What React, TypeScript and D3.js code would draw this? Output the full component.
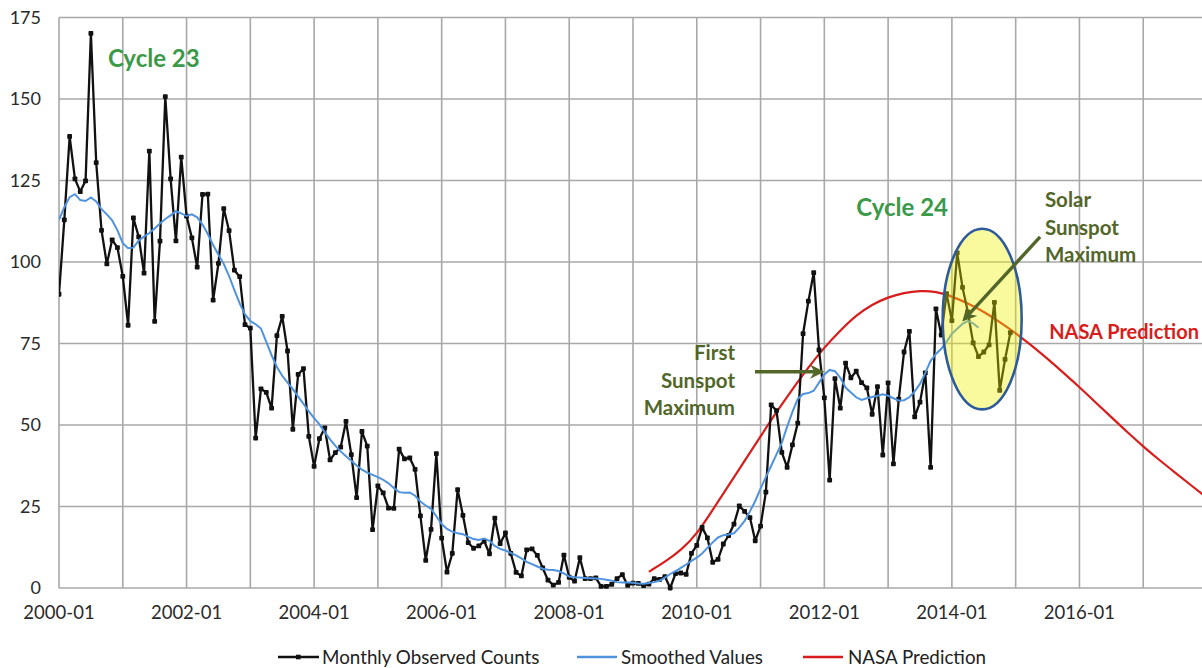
import React from "react";
import * as d3 from "d3";

const W = 1202;
const H = 668;

// Monthly observed sunspot counts, Jan..Dec of each year
const obs2000 = [90.1, 112.9, 138.5, 125.5, 121.6, 124.9, 170.1, 130.5, 109.7, 99.4, 106.8, 104.4];
const obs2001 = [95.6, 80.6, 113.5, 107.7, 96.6, 134.0, 81.8, 106.4, 150.7, 125.5, 106.5, 132.2];
const obs2002 = [114.1, 107.4, 98.4, 120.7, 120.8, 88.3, 99.6, 116.4, 109.6, 97.5, 95.5, 80.8];
const obs2003 = [79.7, 46.0, 61.1, 60.0, 55.2, 77.4, 83.3, 72.7, 48.7, 65.5, 67.3, 46.5];
const obs2004 = [37.3, 45.8, 49.1, 39.3, 41.5, 43.2, 51.1, 40.9, 27.7, 48.0, 43.5, 17.9];
const obs2005 = [31.3, 29.2, 24.5, 24.4, 42.6, 39.6, 39.9, 36.4, 22.1, 8.5, 18.0, 41.2];
const obs2006 = [15.3, 4.9, 10.6, 30.2, 22.3, 13.9, 12.2, 12.9, 14.4, 10.5, 21.4, 13.6];
const obs2007 = [16.9, 10.6, 4.8, 3.7, 11.7, 12.0, 10.0, 6.2, 2.4, 0.9, 1.7, 10.1];
const obs2008 = [3.3, 2.1, 9.3, 2.9, 2.9, 3.1, 0.5, 0.5, 1.1, 2.9, 4.1, 0.8];
const obs2009 = [1.5, 1.4, 0.7, 1.2, 2.9, 2.6, 3.5, 0.0, 4.4, 4.6, 4.2, 10.6];
const obs2010 = [13.1, 18.6, 15.4, 7.9, 8.8, 13.5, 16.1, 19.6, 25.2, 23.5, 21.6, 14.5];
const obs2011 = [19.0, 29.4, 56.2, 54.4, 41.6, 37.0, 43.9, 50.6, 78.0, 88.0, 96.7, 73.0];
const obs2012 = [58.3, 33.1, 64.2, 55.2, 69.0, 64.5, 66.5, 63.0, 61.4, 53.3, 61.8, 40.8];
const obs2013 = [62.9, 38.1, 57.9, 72.4, 78.7, 52.5, 57.0, 66.0, 37.0, 85.6, 77.6, 90.3];
const obs2014 = [82.0, 102.8, 92.2, 84.7, 75.2, 71.0, 72.4, 74.6, 87.6, 60.6, 70.1, 78.3];

// Smoothed values, Jan 2000 .. Jun 2014
const sm2000 = [112.9, 116.8, 119.9, 120.8, 119.0, 118.7, 119.8, 118.6, 116.2, 114.6, 112.8, 109.7];
const sm2001 = [105.8, 104.2, 104.4, 106.6, 107.8, 108.9, 110.3, 111.8, 113.2, 114.3, 115.6, 114.9];
const sm2002 = [114.1, 114.6, 113.7, 111.5, 108.6, 105.2, 102.2, 99.4, 95.7, 91.4, 87.3, 83.9];
const sm2003 = [81.9, 80.9, 79.6, 75.5, 71.4, 67.8, 65.1, 63.0, 61.0, 58.7, 56.5, 54.2];
const sm2004 = [52.1, 50.2, 47.8, 45.6, 43.6, 41.9, 40.4, 39.0, 37.6, 36.3, 35.4, 34.7];
const sm2005 = [34.0, 33.2, 32.1, 30.7, 29.4, 29.2, 29.3, 28.3, 26.5, 25.3, 24.3, 22.0];
const sm2006 = [19.6, 18.1, 17.3, 16.8, 16.5, 15.7, 15.0, 14.7, 15.2, 14.5, 12.9, 12.0];
const sm2007 = [11.5, 10.8, 10.0, 9.1, 8.0, 7.3, 6.6, 5.9, 5.6, 5.5, 5.2, 4.5];
const sm2008 = [3.5, 3.3, 3.2, 3.1, 3.0, 2.9, 2.8, 2.5, 2.2, 1.8, 1.7, 1.7];
const sm2009 = [1.6, 1.4, 1.3, 1.5, 1.8, 2.2, 3.2, 4.3, 5.2, 6.2, 7.2, 8.3];
const sm2010 = [9.3, 10.6, 12.3, 14.0, 15.5, 16.2, 16.4, 16.8, 18.5, 20.6, 23.5, 26.7];
const sm2011 = [30.5, 34.0, 37.5, 41.0, 44.5, 49.5, 54.0, 58.0, 59.5, 59.8, 60.5, 63.0];
const sm2012 = [65.5, 66.9, 66.5, 64.5, 61.5, 60.0, 58.5, 57.7, 58.2, 58.6, 59.0, 59.4];
const sm2013 = [59.0, 58.2, 57.5, 57.6, 58.5, 60.3, 62.6, 66.0, 69.7, 71.8, 73.4, 75.5];
const sm2014 = [78.0, 79.5, 81.0, 81.9, 81.2, 79.8];

// NASA prediction: month index since Jan 2000, predicted value
const nasaMonth = [111, 114, 117, 120, 123, 126, 129, 132, 135, 138, 141, 144, 147, 150, 153, 156, 159, 162, 165, 168, 171, 174, 177, 180, 183, 186, 189, 192, 195, 198, 201, 204, 207, 210, 213, 216];
const nasaValue = [5.0, 8.0, 11.5, 16.5, 24.0, 31.5, 39.0, 46.5, 54.0, 61.0, 67.7, 73.8, 79.0, 83.7, 87.0, 89.2, 90.6, 91.2, 91.0, 89.5, 87.3, 84.8, 81.6, 78.2, 74.4, 70.3, 66.0, 61.6, 57.0, 52.4, 47.8, 43.4, 39.3, 35.4, 31.5, 27.7];

const yTicks = [0, 25, 50, 75, 100, 125, 150, 175];
const gridYears = [2000, 2001, 2002, 2003, 2004, 2005, 2006, 2007, 2008, 2009, 2010, 2011, 2012, 2013, 2014, 2015, 2016, 2017];
const labelYears = [2000, 2002, 2004, 2006, 2008, 2010, 2012, 2014, 2016];
const legendLabels = ["Monthly Observed Counts", "Smoothed Values", "NASA Prediction"];

const observed = [
  ...obs2000, ...obs2001, ...obs2002, ...obs2003, ...obs2004, ...obs2005, ...obs2006, ...obs2007,
  ...obs2008, ...obs2009, ...obs2010, ...obs2011, ...obs2012, ...obs2013, ...obs2014,
];
const smoothed = [
  ...sm2000, ...sm2001, ...sm2002, ...sm2003, ...sm2004, ...sm2005, ...sm2006, ...sm2007,
  ...sm2008, ...sm2009, ...sm2010, ...sm2011, ...sm2012, ...sm2013, ...sm2014,
];

const FONT = "Lato, 'Open Sans', sans-serif";
const BLACK = "#111111";
const BLUE = "#4f93df";
const RED = "#d91c1c";
const GREEN = "#3a9a48";
const OLIVE = "#52662a";
const GRID = "#a8a8a8";

export default function App() {
  const x = d3.scaleLinear().domain([0, 216]).range([59, 1207]);
  const y = d3.scaleLinear().domain([0, 175]).range([588, 17.5]);
  const mi = (year: number, m: number) => (year - 2000) * 12 + m; // month index (fractional ok)

  const lineIdx = d3
    .line<number>()
    .x((_, i) => x(i))
    .y((d) => y(d));
  const nasaLine = d3
    .line<number>()
    .x((_, i) => x(nasaMonth[i]))
    .y((d) => y(d))
    .curve(d3.curveBasis);

  // annotation anchors in data units
  const ell = { cx: mi(2014, 5.7), cy: 82.5, rx: 7.43, ry: 27.7 };
  const ellRx = x(ell.cx + ell.rx) - x(ell.cx);
  const ellRy = y(ell.cy - ell.ry) - y(ell.cy);

  const arrow1 = { m0: mi(2010, 10.95), v0: 66.35, m1: mi(2011, 11.2), v1: 66.35 };
  const arrow2 = { m0: mi(2015, 4.6), v0: 107.7, m1: mi(2014, 2.5), v1: 82.7 };

  return (
    <svg
      width={W}
      height={H}
      style={{ position: "absolute", left: 0, top: 0, background: "#fff" }}
      fontFamily={FONT}
    >
      <defs>
        <clipPath id="plotclip">
          <rect x={x(0)} y={y(175) - 3} width={W - x(0)} height={y(0) - y(175) + 6} />
        </clipPath>
        <marker
          id="ah"
          viewBox="0 0 10 10"
          refX="7"
          refY="5"
          markerWidth="4.2"
          markerHeight="4.2"
          orient="auto"
          markerUnits="strokeWidth"
        >
          <path d="M0,0 L10,5 L0,10 L3,5 z" fill={OLIVE} />
        </marker>
      </defs>

      {/* gridlines */}
      <g>
        {yTicks.map((t) => (
          <line key={"h" + t} x1={x(0)} x2={W} y1={y(t)} y2={y(t)} stroke={GRID} strokeWidth={1.6} />
        ))}
        {gridYears.map((yr) => (
          <line
            key={"v" + yr}
            x1={x(mi(yr, 0))}
            x2={x(mi(yr, 0))}
            y1={y(175)}
            y2={y(0)}
            stroke={GRID}
            strokeWidth={1.6}
          />
        ))}
      </g>

      {/* y tick labels */}
      <g fontSize={18} fill="#2a2a2a">
        {yTicks.map((t) => (
          <text key={"yl" + t} x={41} y={y(t)} dy="0.35em" textAnchor="end">
            {t}
          </text>
        ))}
      </g>

      {/* x tick labels */}
      <g fontSize={18.5} fill="#2a2a2a">
        {labelYears.map((yr) => (
          <text key={"xl" + yr} x={x(mi(yr, 0))} y={619} textAnchor="middle">
            {yr}-01
          </text>
        ))}
      </g>

      {/* series */}
      <g clipPath="url(#plotclip)">
        <path d={nasaLine(nasaValue) || ""} fill="none" stroke={RED} strokeWidth={2.2} />
        <path d={lineIdx(observed) || ""} fill="none" stroke={BLACK} strokeWidth={2.3} strokeLinejoin="round" />
        {observed.map((v, i) => (
          <rect key={"p" + i} x={x(i) - 2.4} y={y(v) - 2.4} width={4.8} height={4.8} rx={0.8} fill={BLACK} />
        ))}
        <path d={lineIdx(smoothed) || ""} fill="none" stroke={BLUE} strokeWidth={2} />
      </g>

      {/* highlight ellipse */}
      <ellipse
        cx={x(ell.cx)}
        cy={y(ell.cy)}
        rx={ellRx}
        ry={ellRy}
        fill="rgb(240,240,0)"
        fillOpacity={0.38}
        stroke="#2d5a9a"
        strokeWidth={2.6}
      />

      {/* arrows */}
      <line
        x1={x(arrow1.m0)}
        y1={y(arrow1.v0)}
        x2={x(arrow1.m1)}
        y2={y(arrow1.v1)}
        stroke={OLIVE}
        strokeWidth={3.4}
        markerEnd="url(#ah)"
      />
      <line
        x1={x(arrow2.m0)}
        y1={y(arrow2.v0)}
        x2={x(arrow2.m1)}
        y2={y(arrow2.v1)}
        stroke={OLIVE}
        strokeWidth={3.4}
        markerEnd="url(#ah)"
      />

      {/* annotations */}
      <text x={x(mi(2000, 9.2))} y={y(159.7)} fontSize={24} fontWeight="bold" fill={GREEN}>
        Cycle 23
      </text>
      <text x={x(mi(2012, 6))} y={y(114)} fontSize={24} fontWeight="bold" fill={GREEN}>
        Cycle 24
      </text>
      <g fontSize={20.5} fontWeight="bold" fill={OLIVE} textAnchor="end">
        <text x={x(mi(2010, 7.2))} y={y(69.8)}>First</text>
        <text x={x(mi(2010, 7.2))} y={y(61.2)}>Sunspot</text>
        <text x={x(mi(2010, 7.2))} y={y(53.0)}>Maximum</text>
      </g>
      <g fontSize={20.5} fontWeight="bold" fill={OLIVE}>
        <text x={x(mi(2015, 5.5))} y={y(117)}>Solar</text>
        <text x={x(mi(2015, 5.5))} y={y(108.2)}>Sunspot</text>
        <text x={x(mi(2015, 5.5))} y={y(100)}>Maximum</text>
      </g>
      <text x={x(mi(2015, 6.3))} y={y(76.5)} fontSize={20} fontWeight="bold" fill={RED}>
        NASA Prediction
      </text>

      {/* legend */}
      <g fontSize={18.8} fill="#222">
        <line x1={278} x2={319} y1={657} y2={657} stroke={BLACK} strokeWidth={2.4} />
        <rect x={296} y={654.7} width={4.6} height={4.6} fill={BLACK} />
        <text x={322} y={657} dy="0.35em">{legendLabels[0]}</text>
        <line x1={577} x2={617} y1={657} y2={657} stroke={BLUE} strokeWidth={2.4} />
        <text x={621} y={657} dy="0.35em">{legendLabels[1]}</text>
        <line x1={803} x2={843} y1={657} y2={657} stroke={RED} strokeWidth={2.4} />
        <text x={848} y={657} dy="0.35em">{legendLabels[2]}</text>
      </g>
    </svg>
  );
}
